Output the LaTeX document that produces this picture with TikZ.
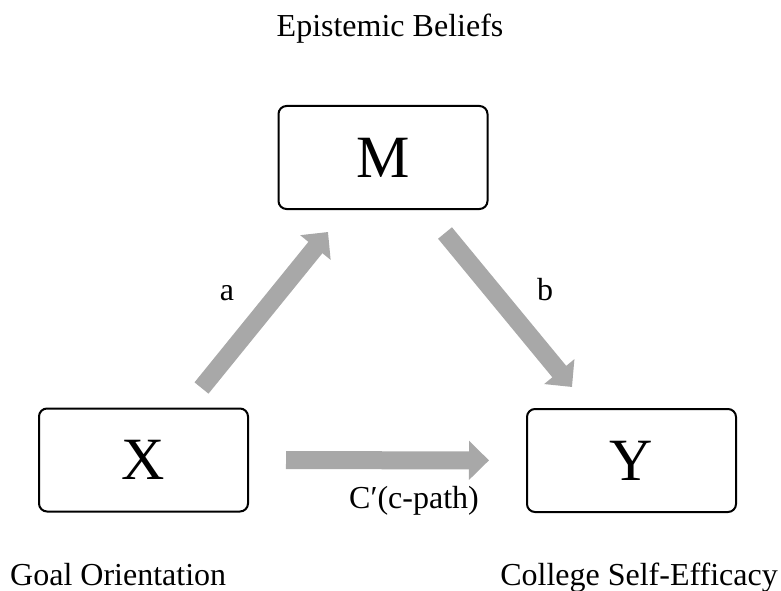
\documentclass[tikz,border=0pt]{standalone}
\usepackage{fontspec}
\setmainfont{Liberation Serif}
\usetikzlibrary{arrows.meta}
\definecolor{arrowgray}{RGB}{168,168,168}
\tikzset{
  varbox/.style={draw=black, line width=2pt, rounded corners=8pt, minimum width=209pt, minimum height=103pt, inner sep=0pt, font=\fontsize{60}{70}\selectfont},
  lbl/.style={inner sep=0pt, anchor=base, font=\fontsize{32}{38}\selectfont},
  patharrow/.style={draw=arrowgray, line width=18pt, -{Triangle[width=38pt,length=20pt]}}
}
\begin{document}
\begin{tikzpicture}[x=1pt,y=-1pt]
\useasboundingbox (0,0) rectangle (781,591);
\node[varbox] (M) at (383,157.5) {M};
\node[varbox] (X) at (143.5,460) {X};
\node[varbox] (Y) at (631.5,460.5) {Y};
\node[lbl] (eb) at (390,37) {Epistemic Beliefs};
\node[lbl, anchor=base west] (go) at (10,585) {Goal Orientation};
\node[lbl, anchor=base east] (cse) at (778,585) {College Self-Efficacy};
\node[lbl] (la) at (227,300) {a};
\node[lbl] (lb) at (545,300) {b};
\node[lbl] (lc) at (414,508) {C′(c-path)};
\coordinate (a0) at (201.5,388);
\coordinate (a1) at (328,232);
\coordinate (b0) at (445,233);
\coordinate (b1) at (572,387);
\draw[patharrow] (a0) -- (a1);
\draw[patharrow] (b0) -- (b1);
\draw[patharrow, shorten <=37pt, shorten >=37pt] (X) -- (Y);
\end{tikzpicture}
\end{document}
